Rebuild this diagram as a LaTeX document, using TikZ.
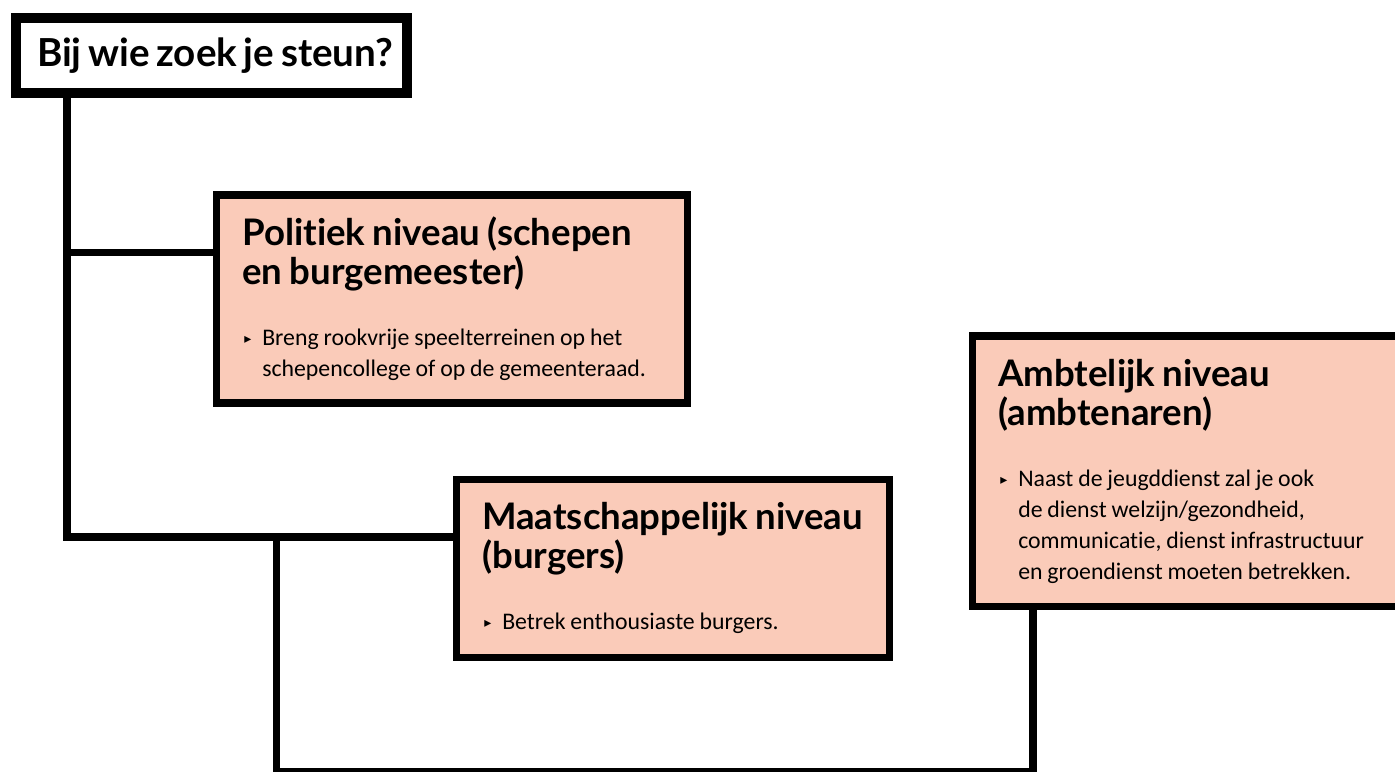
\documentclass[tikz,border=0pt]{standalone}
\usepackage{fontspec}
\setmainfont{Carlito}[Ligatures={NoCommon}]
\newfontfamily\headfont{Lato}[Ligatures={NoCommon}]
\newfontfamily\symfont{DejaVu Sans}
\usetikzlibrary{positioning,calc}

\definecolor{boxpink}{RGB}{250,203,185}

% heading and bullet inside a box
\newcommand{\kop}[2][18.3]{{\headfont\bfseries\fontsize{#1}{19.5}\selectfont #2\par}}
\newcommand{\punt}[1]{\vspace{15.5pt}\noindent\makebox[10pt][l]{\hspace{1pt}\raisebox{1pt}{\symfont\fontsize{7}{7}\selectfont ▸}}%
  \parbox[t]{\dimexpr\linewidth-10pt\relax}{\fontsize{11.9}{15.5}\selectfont\spaceskip=0.9\fontdimen2\font #1}}

\begin{document}
\begin{tikzpicture}[x=0.5pt, y=-0.5pt,
    box/.style={draw, line width=3.75pt, fill=boxpink, anchor=north west, align=left,
      inner xsep=13pt, inner ysep=0pt, font=\fontsize{11}{15}\selectfont},
    titlebox/.style={draw, line width=5pt, fill=white, anchor=north west, align=left,
      inner xsep=10.5pt, inner ysep=0pt, minimum width=195.5pt, minimum height=37.5pt},
    link/.style={line width=3.75pt}]
  \path[fill=white] (0,0) rectangle (1395,771);
  \useasboundingbox (0,0) rectangle (1395,771);

  % Nodes
  \node[titlebox, text width=174.5pt] (title) at (11,13) {\kop[19.3]{\mbox{Bij wie zoek je steun?}}};
  \node[box, text width=209.5pt, minimum height=104pt] (politiek) at (212.5,191)
    {\kop{Politiek niveau (schepen\\en burgemeester)}\punt{Breng rookvrije speelterreinen op het\\schepencollege of op de gemeenteraad.}};
  \node[box, text width=190.5pt, minimum height=89pt] (maatsch) at (452.5,475.5)
    {\kop{Maatschappelijk niveau\\(burgers)}\punt{Betrek enthousiaste burgers.}};
  \node[box, text width=190pt, minimum height=135.25pt] (ambt) at (968.5,332)
    {\kop{Ambtelijk niveau\\(ambtenaren)}\punt{Naast de jeugddienst zal je ook\\de dienst welzijn/gezondheid,\\communicatie, dienst infrastructuur\\en groendienst moeten betrekken.}};

  % Lines
  \coordinate (trunk) at (67,537);
  \coordinate (branch) at (67,252.5);
  \coordinate (drop) at (276.5,537);
  \coordinate (floor) at (276.5,772);
  \draw[link] (title.south -| trunk) -- (trunk) -- (trunk -| maatsch.west);
  \draw[link] (branch) -- (branch -| politiek.west);
  \draw[link] (drop) -- (floor) -| ([xshift=32.25pt]ambt.south west);
\end{tikzpicture}
\end{document}
